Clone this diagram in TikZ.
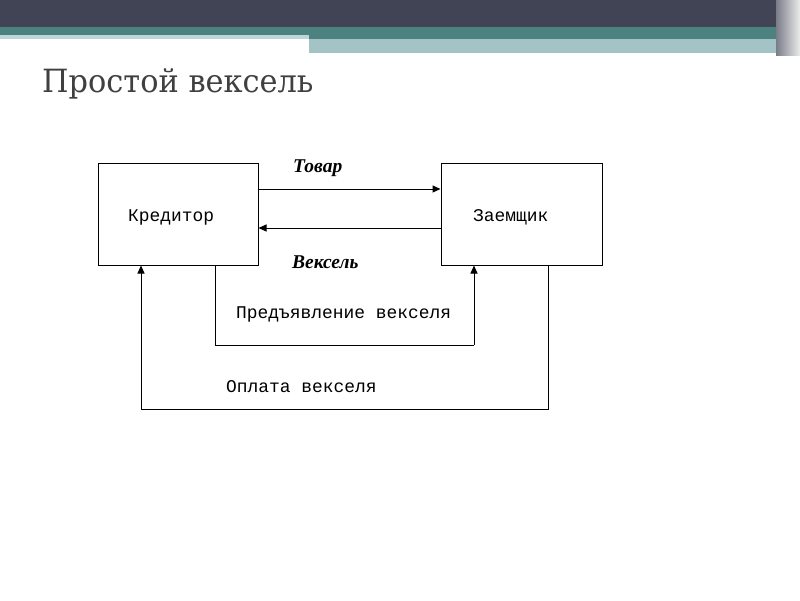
\documentclass[tikz,border=0pt]{standalone}
\usepackage{fontspec}
\setmainfont{Liberation Serif}
\newfontfamily\titlefont[FakeStretch=0.95]{DejaVu Serif}
\newfontfamily\boxfont{Liberation Mono}
\usetikzlibrary{arrows.meta}
\definecolor{headdark}{HTML}{414455}
\definecolor{headteal}{HTML}{4B827F}
\definecolor{headlight}{HTML}{A3C3C6}
\definecolor{titlegray}{HTML}{404040}

\begin{document}
\begin{tikzpicture}[x=1pt,y=-1pt,
    party/.style={draw=black,line width=1pt,minimum width=160pt,minimum height=102pt,inner sep=0pt},
    flow/.style={draw=black,line width=1pt,-{Triangle[length=8pt,width=7pt]}},
    line/.style={draw=black,line width=1pt},
    mono/.style={font=\boxfont\fontsize{17.9}{20}\selectfont,inner sep=0pt},
    goods/.style={font=\bfseries\itshape\fontsize{19.5}{22}\selectfont,inner sep=0pt}]
      % page and header
      \fill [white] (0,0) rectangle (800,600);
      \fill [headdark] (0,0) rectangle (800,27);
      \fill [headteal] (0,27) rectangle (800,35);
      \fill [headlight!70!white] (0,35) rectangle (309,39);
      \fill [headteal] (309,35) rectangle (790,39);
      \fill [headlight] (309,39) rectangle (784,53);
      \shade [left color=headdark!70!white,right color=gray!15] (776,0) rectangle (800,55);
      \node [anchor=base west,inner sep=0pt,text=titlegray,font=\titlefont\fontsize{32}{36}\selectfont] (title) at (42,92) {Простой вексель};
      % parties
      \node [party] (kred) at (178,214) {};
      \node [party,minimum width=161pt] (zaem) at (521.5,214) {};
      \node [mono,anchor=base west] (kredtxt) at (128,221) {Кредитор};
      \node [mono,anchor=base west] (zaemtxt) at (473,221) {Заемщик};
      % goods and bill
      \coordinate (tov) at (350,189);
      \coordinate (veks) at (350,228);
      \draw [flow] (kred.east |- tov) -- (zaem.west |- tov);
      \node [goods,anchor=base west] (tovtxt) at (293,172) {Товар};
      \draw [flow] (zaem.west |- veks) -- (kred.east |- veks);
      \node [goods,anchor=base west] (vekstxt) at (292,268) {Вексель};
      % presentation of the bill
      \coordinate (pred1) at (215,345);
      \coordinate (pred2) at (474,345);
      \draw [line] (kred.south -| pred1) -- (pred1) -- (pred2);
      \draw [flow] (pred2) -- (zaem.south -| pred2);
      \node [mono,anchor=base west] (predtxt) at (236,318) {Предъявление векселя};
      % payment of the bill
      \coordinate (opl1) at (548,409);
      \coordinate (opl2) at (141,409);
      \draw [line] (zaem.south -| opl1) -- (opl1) -- (opl2);
      \draw [flow] (opl2) -- (kred.south -| opl2);
      \node [mono,anchor=base west] (opltxt) at (226,392) {Оплата векселя};
\end{tikzpicture}
\end{document}
